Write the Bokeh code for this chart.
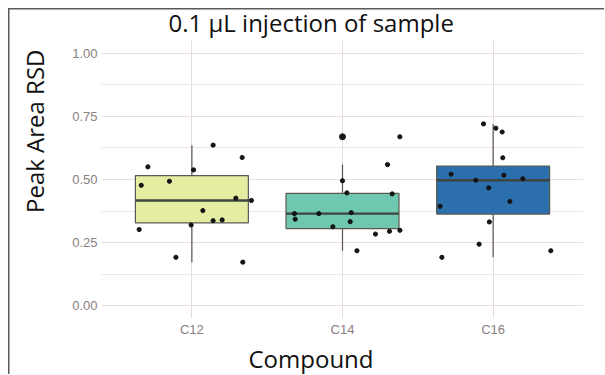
import numpy as np
from bokeh.plotting import figure
from bokeh.models import FactorRange, Range1d, FixedTicker, ColumnDataSource, Title
from bokeh.embed import file_html
from bokeh.resources import INLINE

compounds = ["C12", "C14", "C16"]
fill_colors = ["#e5eda3", "#6fc7b0", "#2b6fad"]

c12_rsd = [0.550, 0.477, 0.493, 0.538, 0.636, 0.587, 0.426, 0.417, 0.377, 0.337, 0.340, 0.320, 0.302, 0.192, 0.173]
c12_jitter = [-0.292, -0.336, -0.149, 0.011, 0.141, 0.334, 0.292, 0.395, 0.073, 0.141, 0.201, -0.005, -0.350, -0.106, 0.338]
c14_rsd = [0.669, 0.559, 0.495, 0.447, 0.443, 0.365, 0.365, 0.369, 0.343, 0.333, 0.313, 0.284, 0.295, 0.299, 0.218]
c14_jitter = [0.381, 0.299, 0.000, 0.029, 0.330, -0.319, -0.157, 0.058, -0.314, 0.051, -0.064, 0.219, 0.312, 0.381, 0.096]
c16_rsd = [0.720, 0.703, 0.688, 0.586, 0.521, 0.517, 0.503, 0.497, 0.467, 0.413, 0.394, 0.332, 0.244, 0.218, 0.192]
c16_jitter = [-0.064, 0.018, 0.060, 0.064, -0.279, 0.071, 0.197, -0.115, -0.029, 0.111, -0.352, -0.025, -0.093, 0.383, -0.340]

y_ticks = [0.0, 0.25, 0.5, 0.75, 1.0]
y_minor = [0.125, 0.375, 0.625, 0.875]

groups = [c12_rsd, c14_rsd, c16_rsd]
jitters = [c12_jitter, c14_jitter, c16_jitter]

# box statistics (ggplot-style)
q1s, meds, q3s, lows, highs = [], [], [], [], []
out_x, out_y = [], []
for name, vals in zip(compounds, groups):
    a = np.array(vals)
    q1, med, q3 = np.percentile(a, [25, 50, 75])
    iqr = q3 - q1
    lo_f, hi_f = q1 - 1.5 * iqr, q3 + 1.5 * iqr
    inside = a[(a >= lo_f) & (a <= hi_f)]
    q1s.append(q1); meds.append(med); q3s.append(q3)
    lows.append(inside.min()); highs.append(inside.max())
    for v in a[(a < lo_f) | (a > hi_f)]:
        out_x.append(name); out_y.append(float(v))

box_src = ColumnDataSource(dict(x=compounds, q1=q1s, med=meds, q3=q3s,
                                low=lows, high=highs, color=fill_colors))

pts_x, pts_y = [], []
for i, (vals, jit) in enumerate(zip(groups, jitters)):
    for v, j in zip(vals, jit):
        pts_x.append(i + 0.5 + j)
        pts_y.append(v)

FONT = "Open Sans"
TXT = "#111111"

p = figure(width=604, height=374, output_backend="svg", toolbar_location=None,
           x_range=FactorRange(factors=compounds, range_padding=0.1, range_padding_units="absolute"),
           y_range=Range1d(-0.05, 1.05),
           min_border_left=101, min_border_right=21, min_border_top=40, min_border_bottom=40)
# thin frame lines along the top and left of the picture (drawn by CSS behind the canvas)
p.styles = {"background": ("linear-gradient(#5a5a5a, #5a5a5a) 8px 8px / 1.5px 100% no-repeat, "
                           "linear-gradient(#5a5a5a, #5a5a5a) 8px 8px / 100% 1.5px no-repeat, white")}
p.outline_line_color = None
p.background_fill_color = "white"
p.border_fill_color = None

# title
p.title.text = "0.1 µL injection of sample"
p.title.align = "left"
p.title.offset = 67
p.title.text_font = FONT
p.title.text_font_size = "24px"
p.title.text_font_style = "normal"
p.title.text_color = TXT
p.title.standoff = 3

# y-axis title (left-side title so it can sit above centre, as in the reference)
p.add_layout(Title(text="Peak Area RSD", align="right", offset=9, vertical_align="top",
                   text_font=FONT, text_font_size="24px", text_font_style="normal",
                   text_color=TXT, standoff=34), "left")

# grids
p.ygrid.ticker = FixedTicker(ticks=y_ticks, minor_ticks=y_minor)
p.ygrid.grid_line_color = "#eadfdc"
p.ygrid.grid_line_width = 1.2
p.ygrid.minor_grid_line_color = "#eee6e3"
p.ygrid.minor_grid_line_width = 1.2
p.xgrid.grid_line_color = "#e6dcda"
p.xgrid.grid_line_width = 1

# axes
p.yaxis.ticker = FixedTicker(ticks=y_ticks)
p.yaxis.major_label_overrides = {t: f"{t:.2f}" for t in y_ticks}
for ax in (p.xaxis[0], p.yaxis[0]):
    ax.axis_line_color = None
    ax.major_tick_line_color = None
    ax.minor_tick_line_color = None
    ax.major_tick_out = 0
    ax.major_tick_in = 0
    ax.minor_tick_out = 0
    ax.major_label_text_color = "#8a8080"
    ax.major_label_text_font = "Liberation Sans"
    ax.major_label_text_font_size = "13px"
p.yaxis.major_label_standoff = 4
p.xaxis.major_label_standoff = 3

# x-axis title (below-side title so it can sit left of centre, as in the reference)
p.add_layout(Title(text="Compound", align="left", offset=147, vertical_align="bottom",
                   text_font=FONT, text_font_size="24px", text_font_style="normal",
                   text_color=TXT, standoff=0), "below")

# whiskers
p.segment(x0="x", y0="q3", x1="x", y1="high", source=box_src, line_color="#5e5252", line_width=1.2)
p.segment(x0="x", y0="q1", x1="x", y1="low", source=box_src, line_color="#5e5252", line_width=1.2)
# boxes
p.vbar(x="x", width=0.75, bottom="q1", top="q3", source=box_src,
       fill_color="color", line_color="#5a5a50", line_width=1.2)
# medians
med_left = [i + 0.5 - 0.375 for i in range(len(compounds))]
med_right = [i + 0.5 + 0.375 for i in range(len(compounds))]
p.segment(x0=med_left, y0=meds, x1=med_right, y1=meds, line_color="#3e4440", line_width=2.4)

# outliers
p.scatter(out_x, out_y, size=6, color="#1a1a1a")
# jittered points
p.scatter(pts_x, pts_y, size=4.2, color="#141414")

open("out.html", "w").write(file_html(p, INLINE))
